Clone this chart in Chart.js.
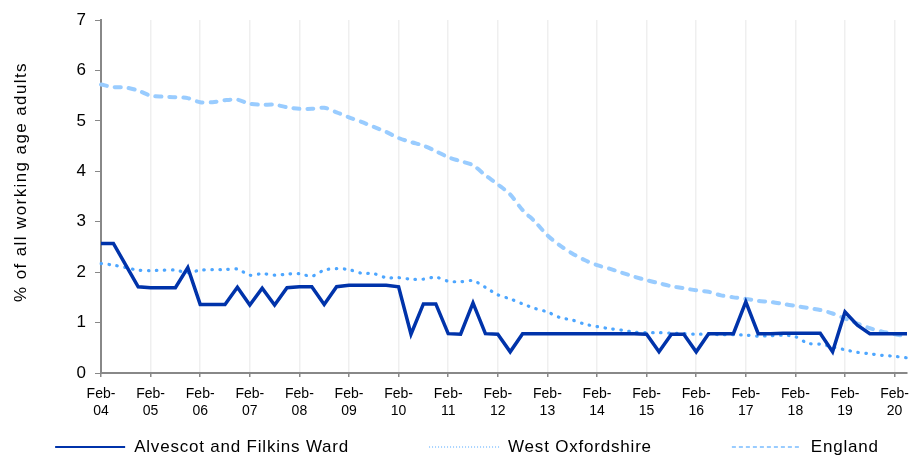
<!DOCTYPE html>
<html>
<head>
<meta charset="utf-8">
<script src="https://cdn.jsdelivr.net/npm/chart.js@4.4.1/dist/chart.umd.min.js"></script>
<style>
  html, body { margin: 0; padding: 0; background: #fff; }
  canvas { display: block; }
</style>
</head>
<body>
<canvas id="claimants" width="911" height="456"></canvas>
<script>
// quarterly points, Feb-04 .. May-20
const quarters = ['Feb', 'May', 'Aug', 'Nov'];
const years = ['04', '05', '06', '07', '08', '09', '10', '11', '12', '13', '14', '15', '16', '17', '18', '19', '20'];

const ward = [
  2.57, 2.57, 2.14, 1.71, 1.69, 1.69, 1.69, 2.09, 1.36, 1.36,
  1.36, 1.70, 1.35, 1.68, 1.35, 1.69, 1.71, 1.71, 1.36, 1.71,
  1.74, 1.74, 1.74, 1.74, 1.71, 0.77, 1.37, 1.37, 0.78, 0.77,
  1.39, 0.78, 0.77, 0.42, 0.78, 0.78, 0.78, 0.78, 0.78, 0.78,
  0.78, 0.78, 0.78, 0.78, 0.77, 0.42, 0.77, 0.77, 0.42, 0.78,
  0.78, 0.78, 1.41, 0.78, 0.78, 0.79, 0.79, 0.79, 0.79, 0.42,
  1.21, 0.95, 0.78, 0.78, 0.78, 0.78
];
const westOxfordshire = [
  2.17, 2.14, 2.09, 2.04, 2.03, 2.04, 2.04, 1.99, 2.04, 2.05,
  2.05, 2.06, 1.94, 1.97, 1.94, 1.96, 1.97, 1.92, 2.04, 2.07,
  2.05, 1.98, 1.97, 1.89, 1.89, 1.86, 1.86, 1.90, 1.82, 1.81,
  1.83, 1.70, 1.55, 1.47, 1.37, 1.28, 1.21, 1.10, 1.05, 0.97,
  0.92, 0.88, 0.85, 0.81, 0.80, 0.80, 0.79, 0.78, 0.77, 0.77,
  0.76, 0.76, 0.75, 0.73, 0.74, 0.75, 0.72, 0.59, 0.57, 0.52,
  0.46, 0.41, 0.38, 0.35, 0.33, 0.30
];
const england = [
  5.72, 5.67, 5.66, 5.60, 5.50, 5.48, 5.47, 5.45, 5.37, 5.37,
  5.41, 5.42, 5.34, 5.32, 5.32, 5.27, 5.24, 5.24, 5.26, 5.17,
  5.07, 4.98, 4.88, 4.78, 4.66, 4.58, 4.51, 4.40, 4.28, 4.20,
  4.12, 3.92, 3.74, 3.54, 3.23, 3.00, 2.73, 2.53, 2.37, 2.24,
  2.14, 2.07, 1.99, 1.91, 1.84, 1.78, 1.72, 1.68, 1.64, 1.61,
  1.54, 1.50, 1.47, 1.43, 1.41, 1.37, 1.33, 1.29, 1.25, 1.18,
  1.08, 0.98, 0.89, 0.82, 0.77, 0.72
];
const yTitle = '% of all working age adults';

const labels = [];
years.forEach(y => quarters.forEach(q => labels.push(q + '-' + y)));
labels.length = ward.length;

const FONT = "'Liberation Sans', Arial, sans-serif";
Chart.defaults.font.family = FONT;
Chart.defaults.color = '#000';

// legend + axis title drawn by hand (the original text is loosely tracked)
const legendStyle = [
  { dash: [], width: 2 },
  { dash: [1, 2], width: 1 },
  { dash: [4, 3], width: 2 }
];
const extras = {
  id: 'extras',
  afterDraw(chart) {
    const ctx = chart.ctx;
    const sets = chart.data.datasets;
    const sample = 70, gap = 9, spacing = 80, y = 447, ls = 0.8;
    ctx.save();
    ctx.font = '17px ' + FONT;
    const widths = sets.map(ds => sample + gap + ctx.measureText(ds.label).width + ds.label.length * ls);
    const total = widths.reduce((a, b) => a + b, 0) + spacing * (sets.length - 1);
    let x = 467 - total / 2;
    sets.forEach((ds, i) => {
      ctx.beginPath();
      ctx.strokeStyle = ds.borderColor;
      ctx.lineWidth = legendStyle[i].width;
      ctx.setLineDash(legendStyle[i].dash);
      ctx.moveTo(x, y);
      ctx.lineTo(x + sample, y);
      ctx.stroke();
      ctx.setLineDash([]);
      ctx.fillStyle = '#000';
      ctx.textAlign = 'left';
      ctx.textBaseline = 'middle';
      ctx.letterSpacing = ls + 'px';
      ctx.fillText(ds.label, x + sample + gap, y);
      ctx.letterSpacing = '0px';
      x += widths[i] + spacing;
    });

    // y axis title
    ctx.font = '17px ' + FONT;
    ctx.letterSpacing = '1.4px';
    ctx.translate(21, 182);
    ctx.rotate(-Math.PI / 2);
    ctx.textAlign = 'center';
    ctx.textBaseline = 'middle';
    ctx.fillStyle = '#000';
    ctx.fillText(yTitle, 0, 0);
    ctx.restore();
  }
};

new Chart(document.getElementById('claimants'), {
  type: 'line',
  data: {
    labels: labels,
    datasets: [
      {
        label: 'Alvescot and Filkins Ward',
        data: ward,
        borderColor: '#0033aa',
        borderWidth: 3.5,
        borderJoinStyle: 'miter',
        tension: 0,
        pointRadius: 0
      },
      {
        label: 'West Oxfordshire',
        data: westOxfordshire,
        borderColor: '#4da6ff',
        borderWidth: 3.2,
        borderDash: [0.5, 7.5],
        borderCapStyle: 'round',
        tension: 0.3,
        pointRadius: 0
      },
      {
        label: 'England',
        data: england,
        borderColor: '#99ccff',
        borderWidth: 4,
        borderDash: [6, 8],
        borderCapStyle: 'round',
        tension: 0.3,
        pointRadius: 0
      }
    ]
  },
  options: {
    responsive: false,
    animation: false,
    devicePixelRatio: 1,
    layout: { padding: { left: 10, right: 4, top: 20, bottom: 38 } },
    plugins: {
      legend: { display: false },
      tooltip: { enabled: false }
    },
    scales: {
      x: {
        offset: false,
        afterFit: (scale) => {
          scale.height = 45;
          scale.paddingLeft = 0;
          scale.paddingRight = 0;
        },
        grid: { color: '#efefef', lineWidth: 1.5, tickColor: '#888', tickLength: 4 },
        border: { color: '#888', width: 2 },
        ticks: {
          autoSkip: false,
          maxRotation: 0,
          minRotation: 0,
          padding: 9,
          font: { size: 14 },
          callback: function (val, idx) {
            if (idx % 4 !== 0) return null;
            const l = this.getLabelForValue(val);
            return [l.slice(0, 4), l.slice(4)];
          }
        }
      },
      y: {
        min: 0,
        max: 7,
        afterFit: (scale) => { scale.width = 91; },
        grid: { drawOnChartArea: false, color: '#888', tickLength: 6 },
        border: { color: '#888', width: 2 },
        ticks: { stepSize: 1, padding: 9, font: { size: 17 } }
      }
    }
  },
  plugins: [extras]
});
</script>
</body>
</html>
